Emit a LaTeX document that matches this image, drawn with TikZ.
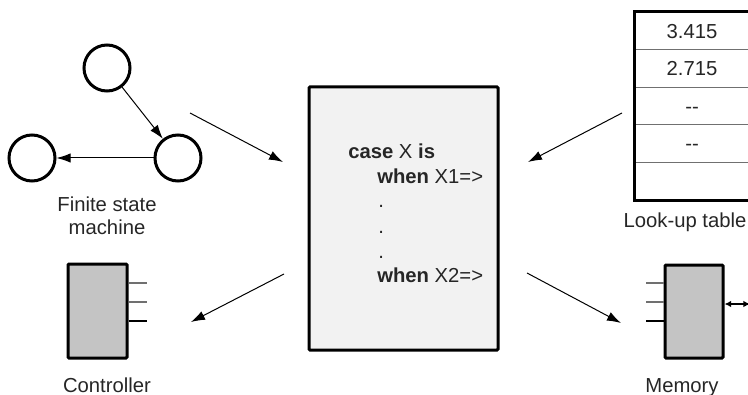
\documentclass[tikz,border=0pt]{standalone}
\usepackage{fontspec}
\setmainfont{Liberation Sans}
\usetikzlibrary{arrows.meta}

\definecolor{codefill}{HTML}{F2F2F2}
\definecolor{chipfill}{HTML}{C4C4C4}
\definecolor{txt}{HTML}{262626}
\definecolor{pingray}{HTML}{707070}

\begin{document}
\begin{tikzpicture}[x=0.75pt,y=-0.75pt,
  every node/.style={font=\fontsize{15.2}{17.25}\selectfont,text=txt},
  state/.style={draw,circle,line width=2.25pt,minimum size=34.5pt,inner sep=0pt},
  chip/.style={draw,line width=2.25pt,fill=chipfill,rounded corners=0.75pt},
  cell/.style={draw=pingray,line width=0.75pt,minimum width=85.5pt,minimum height=28.2pt,
    text height=10.9pt,text depth=0pt,inner sep=0pt},
  codeline/.style={anchor=base west,inner sep=0pt},
  flow/.style={line width=0.75pt,-{Latex[length=10.5pt,width=7pt]}},
  pin/.style={line width=1.1pt}]

  \useasboundingbox (0,0) rectangle (748,395);

  \node[state] (st1) at (107,68) {};
  \node[state] (st2) at (178,158) {};
  \node[state] (st3) at (32,158) {};
  \draw[flow] (st1) -- (st2);
  \draw[flow] (st2) -- (st3);
  \node[align=center,anchor=north,inner sep=0pt] (fsmname) at (107,197) {Finite state\\machine};

  \node[draw,line width=2.25pt,fill=codefill,minimum width=141.75pt,minimum height=197.25pt,
    rounded corners=0.75pt] (code) at (403.5,218.5) {};
  \node[codeline] (case) at (348,159) {\textbf{case} X \textbf{is}};
  \node[codeline] (when1) at (377,184) {\textbf{when} X1=>};
  \foreach \y in {208,233,258} \node[codeline] at (378,\y) {.};
  \node[codeline] (when2) at (377,282) {\textbf{when} X2=>};

  \node[cell] (row1) at (692,31) {3.415};
  \node[cell] (row2) at (692,68.5) {2.715};
  \node[cell] (row3) at (692,106) {-{}-};
  \node[cell] (row4) at (692,143.5) {-{}-};
  \node[cell] (row5) at (692,181) {};
  \draw[line width=2.25pt] (row1.north west) rectangle (row5.south east);
  \node[anchor=base] (lutname) at (685,227) {Look-up table};

  \node[chip,minimum width=44.25pt,minimum height=70.5pt] (ctrl) at (97.5,311) {};
  \node[chip,minimum width=43.5pt,minimum height=69.75pt] (mem) at (694,311.5) {};
  \foreach \y/\c in {283/pingray,302/pingray,321/black} {
    \coordinate (lvl) at (0,\y);
    \draw[pin,\c] (ctrl.east |- lvl) -- ++(18,0);
    \draw[pin,\c] (mem.west |- lvl) -- ++(-18,0);
  }
  \coordinate (bus) at (750,304);
  \draw[line width=1.1pt,{Latex[length=5pt,width=5pt]}-{Latex[length=5pt,width=5pt]}]
    (mem.east |- bus) -- (bus);
  \node[anchor=base] (ctrlname) at (107,392) {Controller};
  \node[anchor=base] (memname) at (682,392) {Memory};

  \coordinate (fsm-out) at (190,113); \coordinate (code-nw) at (283,162);
  \coordinate (lut-out) at (622,113); \coordinate (code-ne) at (528,162);
  \coordinate (code-sw) at (284,274); \coordinate (ctrl-in) at (191,322);
  \coordinate (code-se) at (527,273); \coordinate (mem-in) at (621,323);
  \draw[flow] (fsm-out) -- (code-nw);
  \draw[flow] (lut-out) -- (code-ne);
  \draw[flow] (code-sw) -- (ctrl-in);
  \draw[flow] (code-se) -- (mem-in);

\end{tikzpicture}
\end{document}
